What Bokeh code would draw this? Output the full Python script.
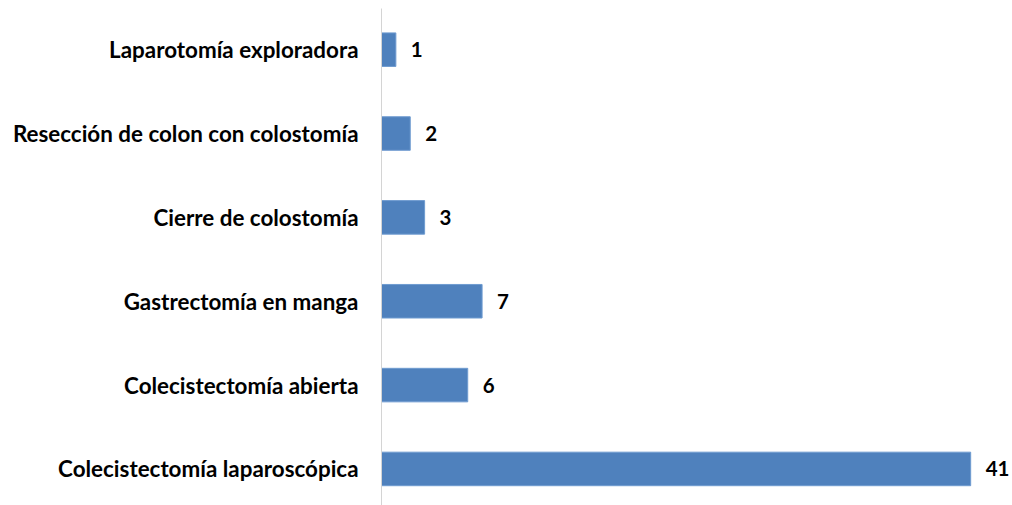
from bokeh.plotting import figure
from bokeh.models import ColumnDataSource, Range1d, FixedTicker, LabelSet
from bokeh.core.properties import value
from bokeh.embed import file_html
from bokeh.resources import INLINE

categories = [
    "Colecistectomía laparoscópica",
    "Colecistectomía abierta",
    "Gastrectomía en manga",
    "Cierre de colostomía",
    "Resección de colon con colostomía",
    "Laparotomía exploradora",
]
values = [41, 6, 7, 3, 2, 1]

FONT = "Lato"
pos = list(range(len(categories)))
src = ColumnDataSource(dict(y=pos, v=values, cat=categories, lab=[str(v) for v in values]))

p = figure(width=1012, height=505, output_backend="svg", toolbar_location=None,
           x_range=Range1d(0, 43.91), y_range=Range1d(-0.436, 5.491),
           min_border_left=381, min_border_right=0, min_border_top=8, min_border_bottom=0)
p.hbar(y="y", right="v", left=0, height=0.40, source=src, fill_color="#4f81bd",
       line_color="#6f9bd0", line_width=1)

labels = LabelSet(x="v", y="y", text="lab", source=src, x_offset=15, y_offset=0,
                  text_baseline="middle", text_align="left", text_font=value(FONT),
                  text_font_size="20.5px", text_font_style="bold", text_color="#000000")
p.add_layout(labels)

p.xaxis.visible = False
p.xgrid.visible = False
p.ygrid.visible = False
p.outline_line_color = None

ya = p.yaxis[0]
ya.ticker = FixedTicker(ticks=pos)
ya.major_label_overrides = {i: c for i, c in enumerate(categories)}
ya.major_tick_line_color = None
ya.minor_tick_line_color = None
ya.major_tick_out = 0
ya.major_tick_in = 0
ya.major_label_standoff = 23
ya.axis_line_color = "#d4d4d4"
ya.axis_line_width = 1
ya.major_label_text_font = FONT
ya.major_label_text_font_size = "22.4px"
ya.major_label_text_font_style = "bold"
ya.major_label_text_color = "#000000"

open("out.html", "w").write(file_html(p, INLINE))
